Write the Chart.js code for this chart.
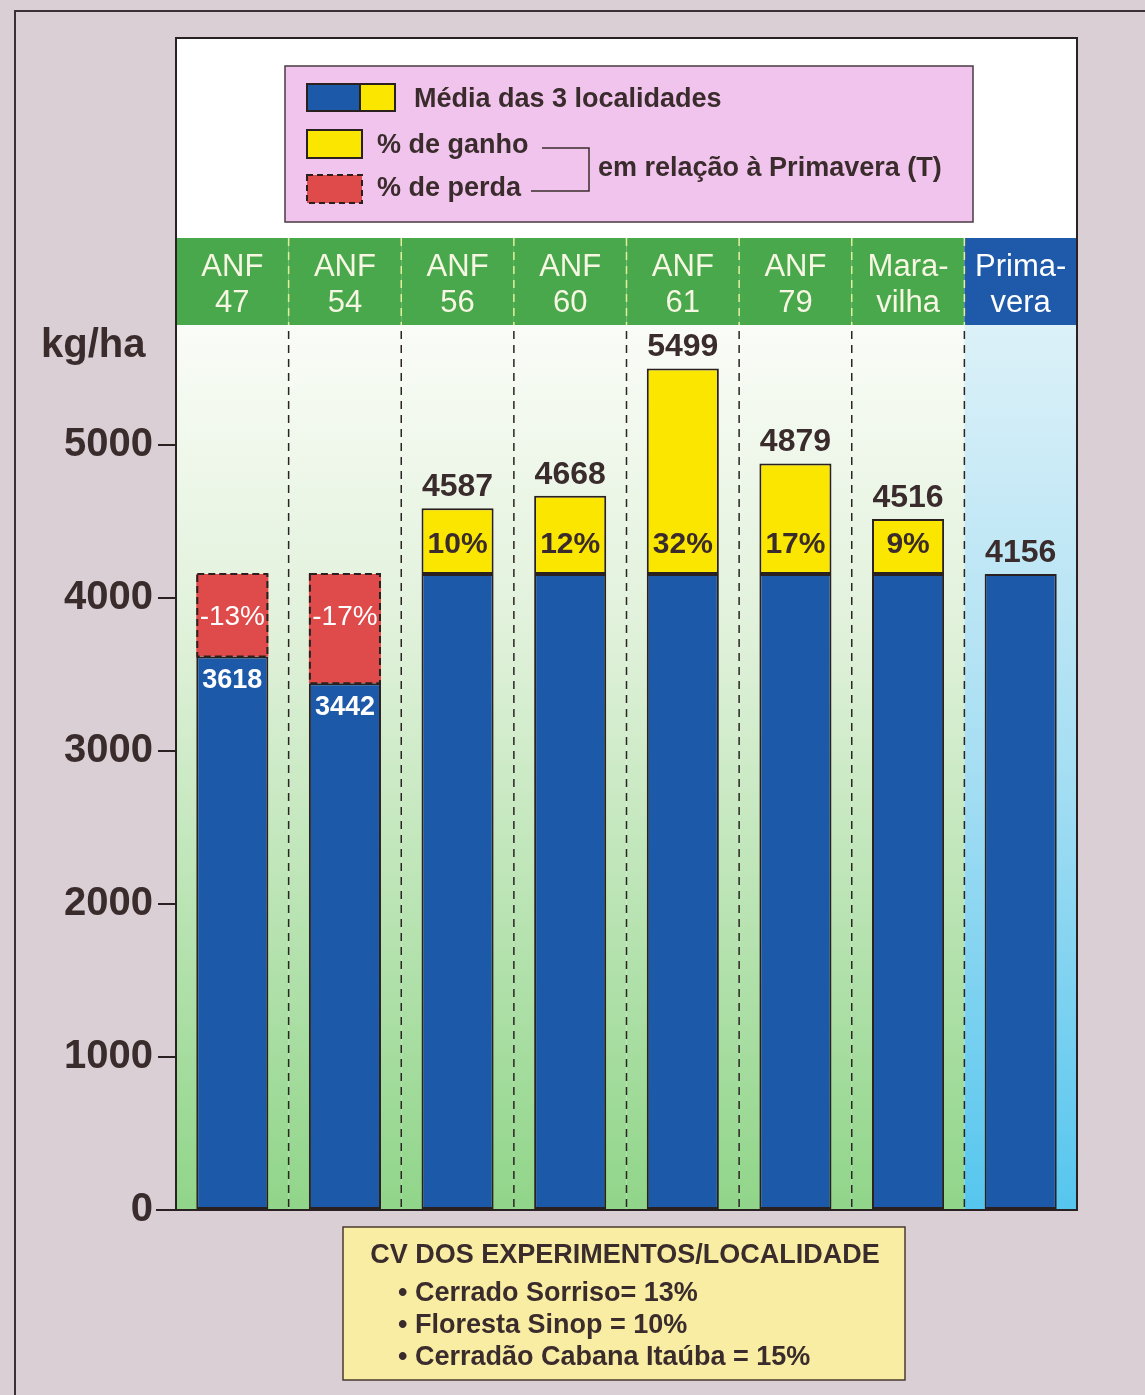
<!DOCTYPE html>
<html>
<head>
<meta charset="utf-8">
<script src="https://cdn.jsdelivr.net/npm/chart.js@4.4.1/dist/chart.umd.min.js"></script>
<style>
  body { margin: 0; background: #d9cfd5; }
  canvas { display: block; }
</style>
</head>
<body>
<canvas id="grafico" width="1145" height="1395"></canvas>
<script>
// cultivares e rendimento medio (kg/ha) nas 3 localidades
var cultivares = [['ANF', '47'], ['ANF', '54'], ['ANF', '56'], ['ANF', '60'], ['ANF', '61'], ['ANF', '79'], ['Mara-', 'vilha'], ['Prima-', 'vera']];
var rendimento = [3618, 3442, 4587, 4668, 5499, 4879, 4516, 4156];
var percentual = ['-13%', '-17%', '10%', '12%', '32%', '17%', '9%', ''];
var testemunha = 4156; // Primavera (T)
var marcasY = [0, 1000, 2000, 3000, 4000, 5000];

var cvLocais = ['Cerrado Sorriso= 13%', 'Floresta Sinop = 10%', 'Cerradão Cabana Itaúba = 15%'];

// partes da barra: base azul, perda (vermelho) e ganho (amarelo)
var base = rendimento.map(function(v) { return Math.min(v, testemunha); });
var perda = rendimento.map(function(v) { return v < testemunha ? testemunha - v : null; });
var ganho = rendimento.map(function(v) { return v > testemunha ? v - testemunha : null; });

var AZUL = '#1d59a9', AMARELO = '#fbe600', VERMELHO = '#df4a4a';
var ESCURO = '#3a2c2c';
var FONTE = '"Liberation Sans", Arial, sans-serif';

var TOPO = 38, FAIXA = 238; // topo do quadro e inicio da faixa verde

function limites(x, i) {
  var meio = (x.getPixelForValue(1) - x.getPixelForValue(0)) / 2;
  var c = x.getPixelForValue(i);
  return [c - meio, c + meio];
}

var fundo = {
  id: 'fundo',
  beforeDraw: function(chart) {
    var ctx = chart.ctx, a = chart.chartArea, x = chart.scales.x;
    ctx.save();
    ctx.fillStyle = '#d9cfd5';
    ctx.fillRect(0, 0, chart.width, chart.height);
    ctx.strokeStyle = '#3a3035';
    ctx.lineWidth = 2;
    ctx.beginPath();
    ctx.moveTo(15, chart.height);
    ctx.lineTo(15, 11);
    ctx.lineTo(chart.width, 11);
    ctx.stroke();

    ctx.fillStyle = '#ffffff';
    ctx.fillRect(a.left, TOPO, a.right - a.left, a.bottom - TOPO);

    for (var i = 0; i < cultivares.length; i++) {
      var l = limites(x, i);
      var ultimo = i === cultivares.length - 1;
      var g = ctx.createLinearGradient(0, a.top, 0, a.bottom);
      if (ultimo) {
        g.addColorStop(0, '#dcf1f8');
        g.addColorStop(0.5, '#a6def3');
        g.addColorStop(1, '#56c6ee');
      } else {
        g.addColorStop(0, '#fafcf7');
        g.addColorStop(0.35, '#e0f1da');
        g.addColorStop(1, '#90d589');
      }
      ctx.fillStyle = g;
      ctx.fillRect(l[0], a.top, l[1] - l[0], a.bottom - a.top);
      // faixa com o nome da cultivar
      ctx.fillStyle = ultimo ? '#1f5aaa' : '#4aa84c';
      ctx.fillRect(l[0], FAIXA, l[1] - l[0], a.top - FAIXA);
      ctx.fillStyle = ultimo ? '#ffffff' : '#f6f6e2';
      ctx.font = '31px ' + FONTE;
      ctx.textAlign = 'center';
      ctx.textBaseline = 'middle';
      ctx.fillText(cultivares[i][0], (l[0] + l[1]) / 2, FAIXA + 29);
      ctx.fillText(cultivares[i][1], (l[0] + l[1]) / 2, FAIXA + 65);
    }

    // divisorias tracejadas
    ctx.lineWidth = 1.5;
    ctx.setLineDash([8, 6]);
    for (var j = 1; j < cultivares.length; j++) {
      var xb = limites(x, j)[0];
      ctx.strokeStyle = '#e4ee9e';
      ctx.beginPath();
      ctx.moveTo(xb, FAIXA);
      ctx.lineTo(xb, a.top);
      ctx.stroke();
      ctx.strokeStyle = '#2a2424';
      ctx.beginPath();
      ctx.moveTo(xb, a.top + 6);
      ctx.lineTo(xb, a.bottom);
      ctx.stroke();
    }
    ctx.setLineDash([]);

    // legenda
    ctx.fillStyle = '#f0c4ec';
    ctx.fillRect(285, 66, 688, 156);
    ctx.strokeStyle = '#4a3a40';
    ctx.lineWidth = 1.5;
    ctx.strokeRect(285, 66, 688, 156);

    ctx.lineWidth = 2;
    ctx.strokeStyle = '#2a2020';
    ctx.fillStyle = AZUL;
    ctx.fillRect(307, 84, 53, 27);
    ctx.fillStyle = AMARELO;
    ctx.fillRect(360, 84, 35, 27);
    ctx.strokeRect(307, 84, 88, 27);
    ctx.beginPath();
    ctx.moveTo(360, 84);
    ctx.lineTo(360, 111);
    ctx.stroke();

    ctx.fillStyle = AMARELO;
    ctx.fillRect(307, 130, 55, 28);
    ctx.strokeRect(307, 130, 55, 28);

    ctx.fillStyle = VERMELHO;
    ctx.fillRect(307, 175, 55, 28);
    ctx.setLineDash([6, 4]);
    ctx.strokeRect(307, 175, 55, 28);
    ctx.setLineDash([]);

    ctx.fillStyle = ESCURO;
    ctx.font = 'bold 27px ' + FONTE;
    ctx.textAlign = 'left';
    ctx.textBaseline = 'middle';
    ctx.fillText('Média das 3 localidades', 414, 100);
    ctx.fillText('% de ganho', 377, 146);
    ctx.fillText('% de perda', 377, 189);
    ctx.fillText('em relação à Primavera (T)', 598, 169);

    ctx.lineWidth = 1.5;
    ctx.strokeStyle = ESCURO;
    ctx.beginPath();
    ctx.moveTo(542, 148);
    ctx.lineTo(589, 148);
    ctx.lineTo(589, 191);
    ctx.lineTo(531, 191);
    ctx.stroke();

    // unidade do eixo
    ctx.font = 'bold 40px ' + FONTE;
    ctx.textAlign = 'left';
    ctx.fillText('kg/ha', 41, 346);

    // quadro do coeficiente de variacao
    ctx.fillStyle = '#f8eda2';
    ctx.fillRect(343, 1227, 562, 153);
    ctx.strokeStyle = '#4a3a30';
    ctx.strokeRect(343, 1227, 562, 153);
    ctx.fillStyle = ESCURO;
    ctx.font = 'bold 27px ' + FONTE;
    ctx.textAlign = 'center';
    ctx.fillText('CV DOS EXPERIMENTOS/LOCALIDADE', 625, 1256, 530);
    ctx.textAlign = 'left';
    cvLocais.forEach(function(t, k) {
      ctx.fillText('• ' + t, 398, 1294 + k * 32);
    });
    ctx.restore();
  },
  beforeDatasetsDraw: function(chart) {
    var ctx = chart.ctx, a = chart.chartArea;
    ctx.save();
    ctx.strokeStyle = '#2a2222';
    ctx.lineWidth = 2;
    ctx.strokeRect(a.left, TOPO, a.right - a.left, a.bottom - TOPO);
    ctx.beginPath();
    ctx.moveTo(156, a.bottom);
    ctx.lineTo(a.left, a.bottom);
    ctx.stroke();
    ctx.restore();
  }
};

var rotulos = {
  id: 'rotulos',
  afterDatasetsDraw: function(chart) {
    var ctx = chart.ctx, y = chart.scales.y;
    var metaBase = chart.getDatasetMeta(0), metaPerda = chart.getDatasetMeta(1);
    var yT = y.getPixelForValue(testemunha);
    ctx.save();
    ctx.textAlign = 'center';
    ctx.textBaseline = 'middle';
    for (var i = 0; i < rendimento.length; i++) {
      var b = metaBase.data[i];
      var topo = y.getPixelForValue(Math.max(rendimento[i], testemunha));
      if (perda[i] !== null) {
        var p = metaPerda.data[i];
        ctx.strokeStyle = '#2a2020';
        ctx.lineWidth = 2;
        ctx.setLineDash([7, 4]);
        ctx.strokeRect(p.x - p.width / 2 + 1, p.y, p.width - 2, p.base - p.y);
        ctx.setLineDash([]);
        ctx.fillStyle = '#ffffff';
        ctx.font = '28px ' + FONTE;
        ctx.fillText(percentual[i], b.x, yT + 43);
        ctx.font = 'bold 27px ' + FONTE;
        ctx.fillText(String(rendimento[i]), b.x, y.getPixelForValue(rendimento[i]) + 24);
      } else {
        ctx.fillStyle = ESCURO;
        ctx.font = 'bold 32px ' + FONTE;
        ctx.fillText(String(rendimento[i]), b.x, topo - 21);
        if (percentual[i]) {
          ctx.font = 'bold 30px ' + FONTE;
          ctx.fillText(percentual[i], b.x, yT - 29);
        }
      }
    }
    ctx.restore();
  }
};

var ctx = document.getElementById('grafico');
new Chart(ctx, {
  type: 'bar',
  data: {
    labels: cultivares.map(function(c) { return c.join(' '); }),
    datasets: [
      { label: 'Média', data: base, backgroundColor: AZUL, borderColor: '#2a2020', borderWidth: 2, borderSkipped: false, stack: 's' },
      { label: '% de perda', data: perda, backgroundColor: VERMELHO, borderWidth: 0, stack: 's' },
      { label: '% de ganho', data: ganho, backgroundColor: AMARELO, borderColor: '#2a2020', borderWidth: 2, borderSkipped: false, stack: 's' }
    ]
  },
  options: {
    responsive: false,
    animation: false,
    devicePixelRatio: 1,
    layout: { padding: { top: 325, right: 68, bottom: 185, left: 0 } },
    datasets: { bar: { barPercentage: 0.64, categoryPercentage: 1 } },
    plugins: { legend: { display: false }, tooltip: { enabled: false } },
    scales: {
      x: { display: false, stacked: true },
      y: {
        stacked: true,
        min: 0,
        max: 5784,
        afterFit: function(s) { s.width = 176; },
        afterBuildTicks: function(s) { s.ticks = marcasY.map(function(v) { return { value: v }; }); },
        border: { display: false },
        grid: { drawOnChartArea: false, tickLength: 18, color: '#2a2222', lineWidth: 2 },
        ticks: {
          padding: 5,
          color: ESCURO,
          font: { family: FONTE, size: 40, weight: 'bold' },
          callback: function(v) { return String(v); }
        }
      }
    }
  },
  plugins: [fundo, rotulos]
});
</script>
</body>
</html>
